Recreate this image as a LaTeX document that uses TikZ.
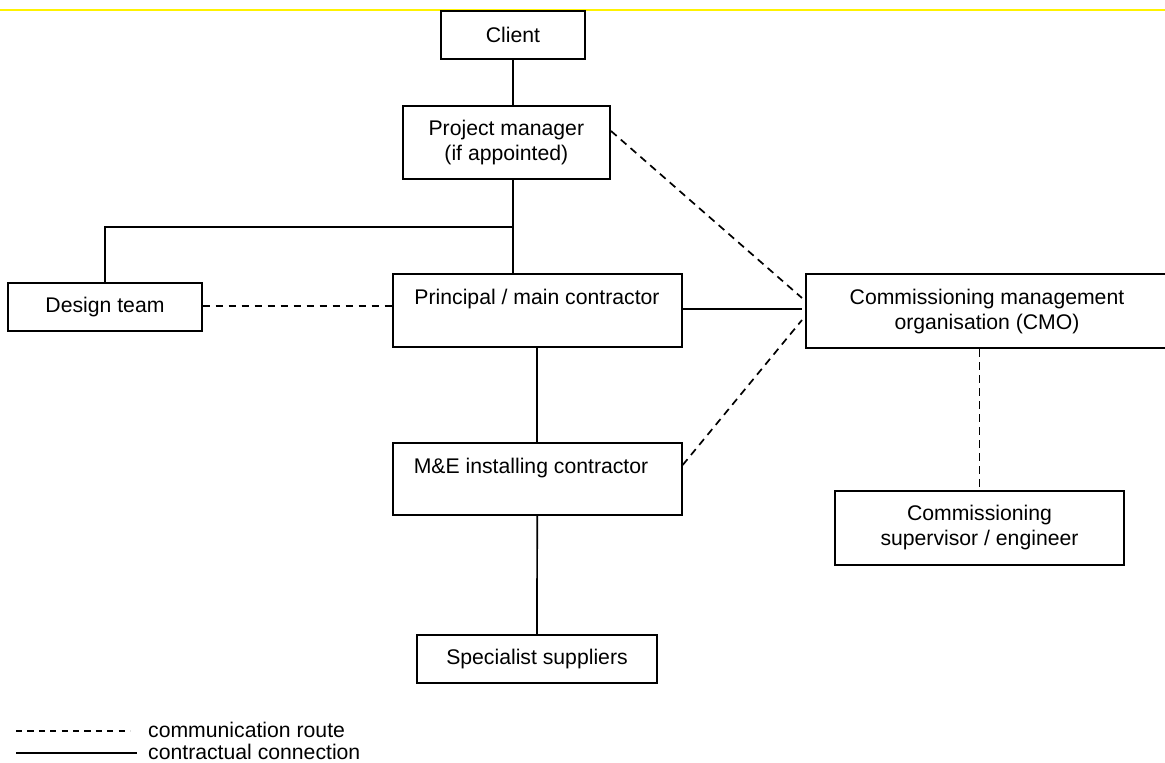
\documentclass[tikz,border=0pt]{standalone}
\usepackage{fontspec}
\setmainfont{Liberation Sans}
\begin{document}
\begin{tikzpicture}[x=1pt,y=-1pt,
  every node/.style={font=\fontsize{21.2}{25}\selectfont},
  box/.style={draw, line width=2pt, rectangle, inner sep=0pt, align=center},
  lbl/.style={inner sep=0pt},
  conn/.style={line width=1.7pt},
  comm/.style={line width=1.7pt, dash pattern=on 7.5pt off 5.5pt},
  legcomm/.style={line width=1.7pt, dash pattern=on 6.2pt off 5.2pt}]
\useasboundingbox (0,0) rectangle (1165,763);
\clip (0,0) rectangle (1165,763);
\fill[white] (0,0) rectangle (1165,763);
% top yellow rule
\draw[yellow, line width=2.2pt] (0,10) -- (1165,10);

% boxes
\node[box, minimum width=144pt, minimum height=48.3pt] (client) at (513,34.9) {Client};
\node[box, minimum width=207.3pt, minimum height=73pt] (pm) at (506.35,142.5) {Project manager\\(if appointed)};
\node[box, minimum width=193.4pt, minimum height=47.7pt] (design) at (105,307.2) {Design team};
\node[box, minimum width=289pt, minimum height=73pt] (pc) at (537.2,310.5) {};
\node[lbl] (pct) at (537,299) {Principal / main contractor};
\node[box, minimum width=362pt, minimum height=74pt] (cmo) at (987,311.3) {Commissioning management\\organisation (CMO)};
\node[box, minimum width=289pt, minimum height=72.3pt] (me) at (537.2,478.9) {};
\node[lbl] (met) at (531,468) {M\&E installing contractor};
\node[box, minimum width=289pt, minimum height=74pt] (cs) at (979.5,528) {Commissioning\\supervisor / engineer};
\node[box, minimum width=240.6pt, minimum height=48.3pt] (sp) at (537,659.2) {Specialist suppliers};

% contractual connections
\coordinate (j) at (513,226.7);
\draw[conn] (client.south -| j) -- (pm.north -| j);
\draw[conn] (pm.south -| j) -- (pc.north -| j);
\draw[conn] (j) -- (j -| design.north) -- (design.north);
\coordinate (cmoA) at (802,309);
\draw[conn] (pc.east |- cmoA) -- (cmoA);
\draw[conn] (pc.south) -- (me.north);
\draw[conn] (me.south) -- (sp.north);

% communication routes
\draw[comm] (design.east |- 0,305.7) -- (pc.west |- 0,305.7);
\coordinate (cmoB) at (802,298);
\coordinate (cmoC) at (802,320);
\draw[comm] (pm.east |- 0,131) -- (cmoB);
\draw[comm] (me.east |- 0,465) -- (cmoC);
\draw[comm] (cmo.south -| cs.north) -- (cs.north);

% legend
\coordinate (l1a) at (16,730.7);
\coordinate (l1b) at (130,730.7);
\coordinate (l2a) at (16,753.3);
\coordinate (l2b) at (136.7,753.3);
\draw[legcomm] (l1a) -- (l1b);
\draw[conn] (l2a) -- (l2b);
\node[lbl, anchor=west] (leg1) at (148,729.5) {communication route};
\node[lbl, anchor=west] (leg2) at (148,752) {contractual connection};
\end{tikzpicture}
\end{document}
